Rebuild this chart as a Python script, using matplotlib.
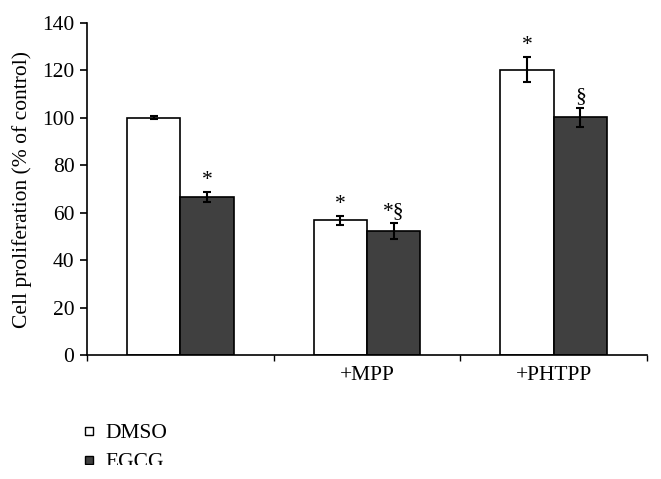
import matplotlib
matplotlib.use("Agg")
import matplotlib.pyplot as plt
import numpy as np
from matplotlib.lines import Line2D
from matplotlib.patches import Rectangle

categories = ["", "+MPP", "+PHTPP"]
series_names = ["DMSO", "EGCG"]
dmso = [100, 56.8, 120.3]
dmso_err = [0.6, 2.0, 5.2]
egcg = [66.8, 52.4, 100.2]
egcg_err = [2.1, 3.5, 4.0]
dmso_marks = ["", "*", "*"]
egcg_marks = ["*", "*§", "§"]
yticks = [0, 20, 40, 60, 80, 100, 120, 140]

plt.rcParams['font.family'] = ['Liberation Serif', 'DejaVu Serif']
FS = 15.5

fig = plt.figure(figsize=(6.61, 4.79), dpi=100)
ax = fig.add_axes([0.1316, 0.258, 0.979 - 0.1316, 0.9526 - 0.258])

x = np.arange(len(categories))
w = 1 / 3.5
ax.bar(x - w / 2, dmso, w, color="white", edgecolor="black", linewidth=1.2, zorder=2)
ax.bar(x + w / 2, egcg, w, color="#404040", edgecolor="black", linewidth=1.2, zorder=2)
ax.errorbar(x - w / 2, dmso, yerr=dmso_err, fmt="none", ecolor="black", elinewidth=1.5, capsize=3, capthick=1.5, zorder=3)
ax.errorbar(x + w / 2, egcg, yerr=egcg_err, fmt="none", ecolor="black", elinewidth=1.5, capsize=3, capthick=1.5, zorder=3)

for i in range(len(categories)):
    if dmso_marks[i]:
        ax.text(x[i] - w / 2, dmso[i] + dmso_err[i] + 0.8, dmso_marks[i], ha="center", va="bottom", fontsize=FS)
    if egcg_marks[i]:
        ax.text(x[i] + w / 2, egcg[i] + egcg_err[i] + 0.8, egcg_marks[i], ha="center", va="bottom", fontsize=FS)

ax.set_xlim(-0.5, 2.5)
ax.set_ylim(0, 140)
ax.set_yticks(yticks)
ax.tick_params(axis="y", labelsize=FS, length=5, width=1.2, direction="out", pad=4)
ax.set_xticks([-0.5, 0.5, 1.5, 2.5])
ax.set_xticklabels([])
ax.tick_params(axis="x", length=4, width=1, direction="out")
for i, c in enumerate(categories):
    ax.text(x[i], -4.5, c, ha="center", va="top", fontsize=FS)

ax.spines["top"].set_visible(False)
ax.spines["right"].set_visible(False)
ax.spines["left"].set_linewidth(1.2)
ax.spines["bottom"].set_linewidth(1.2)
ax.set_ylabel("Cell proliferation (% of control)", fontsize=FS, labelpad=7)

handles = [
    Line2D([], [], marker="s", linestyle="none", markerfacecolor="white", markeredgecolor="black", markersize=5.5),
    Line2D([], [], marker="s", linestyle="none", markerfacecolor="#404040", markeredgecolor="black", markersize=5.5),
]
fig.legend(handles, series_names, loc="upper left", bbox_to_anchor=(0.112, 0.134), frameon=False,
           fontsize=FS, handlelength=0.6, handletextpad=0.45, labelspacing=0.4, borderaxespad=0)

# the reference image is cropped just below the second legend entry
fig.patches.append(Rectangle((0, 0), 1, 14 / 479, transform=fig.transFigure, facecolor="white",
                             edgecolor="none", zorder=10))

fig.savefig("out.png", dpi=100)
